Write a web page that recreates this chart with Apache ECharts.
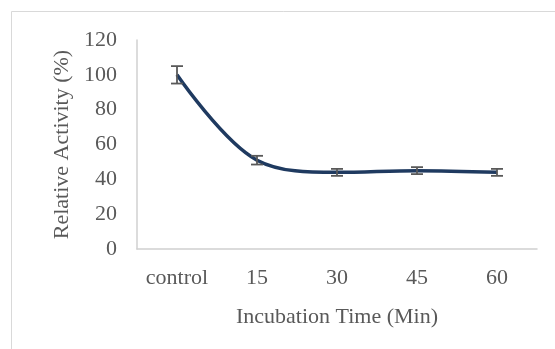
<!DOCTYPE html>
<html>
<head>
<meta charset="utf-8">
<script src="https://cdn.jsdelivr.net/npm/echarts@6/dist/echarts.min.js"></script>
<style>
html,body{margin:0;padding:0;background:#fff;}
#chart{width:555px;height:349px;}
</style>
</head>
<body>
<div id="chart"></div>
<script>
var categories = ['control', '15', '30', '45', '60'];
var activity = [100, 51, 44, 45, 44];
var errorBars = [5, 2.5, 2, 2, 2];
var yTicks = [0, 20, 40, 60, 80, 100, 120];

var chart = echarts.init(document.getElementById('chart'), null, {renderer: 'canvas'});
var font = '"Liberation Serif", "Times New Roman", serif';
var errData = categories.map(function (c, i) {
  return [i, activity[i] - errorBars[i], activity[i] + errorBars[i]];
});

chart.setOption({
  animation: false,
  backgroundColor: '#fff',
  graphic: [{
    type: 'rect',
    shape: {x: 11.5, y: 11.5, width: 600, height: 400},
    style: {fill: 'none', stroke: '#d9d9d9', lineWidth: 1},
    silent: true,
    z: -1
  }],
  grid: {left: 137, right: 18, top: 40, bottom: 100, containLabel: false},
  xAxis: {
    type: 'category',
    data: categories,
    boundaryGap: true,
    axisLine: {show: true, lineStyle: {color: '#d0d0d0', width: 1.5}},
    axisTick: {show: false},
    axisLabel: {color: '#595959', fontFamily: font, fontSize: 22, margin: 18, interval: 0, hideOverlap: false},
    name: 'Incubation Time (Min)',
    nameLocation: 'middle',
    nameGap: 57,
    nameTextStyle: {color: '#595959', fontFamily: font, fontSize: 22}
  },
  yAxis: {
    type: 'value',
    min: yTicks[0],
    max: yTicks[yTicks.length - 1],
    interval: yTicks[1] - yTicks[0],
    splitLine: {show: false},
    axisLine: {show: true, lineStyle: {color: '#d0d0d0', width: 1.5}},
    axisTick: {show: false},
    axisLabel: {color: '#595959', fontFamily: font, fontSize: 22, margin: 20},
    name: 'Relative Activity (%)',
    nameLocation: 'middle',
    nameGap: 64,
    nameRotate: 90,
    nameTextStyle: {color: '#595959', fontFamily: font, fontSize: 22}
  },
  series: [{
    type: 'line',
    data: activity,
    smooth: 0.35,
    symbol: 'none',
    lineStyle: {color: '#1f3a60', width: 3.5},
    z: 3
  }, {
    type: 'custom',
    data: errData,
    z: 4,
    renderItem: function (params, api) {
      var x = api.value(0);
      var lo = api.coord([x, api.value(1)]);
      var hi = api.coord([x, api.value(2)]);
      var hw = 6;
      var st = {stroke: '#595959', lineWidth: 1.8};
      return {
        type: 'group',
        children: [
          {type: 'line', shape: {x1: lo[0], y1: lo[1], x2: hi[0], y2: hi[1]}, style: st},
          {type: 'line', shape: {x1: lo[0] - hw, y1: lo[1], x2: lo[0] + hw, y2: lo[1]}, style: st},
          {type: 'line', shape: {x1: hi[0] - hw, y1: hi[1], x2: hi[0] + hw, y2: hi[1]}, style: st}
        ]
      };
    }
  }]
});
</script>
</body>
</html>
